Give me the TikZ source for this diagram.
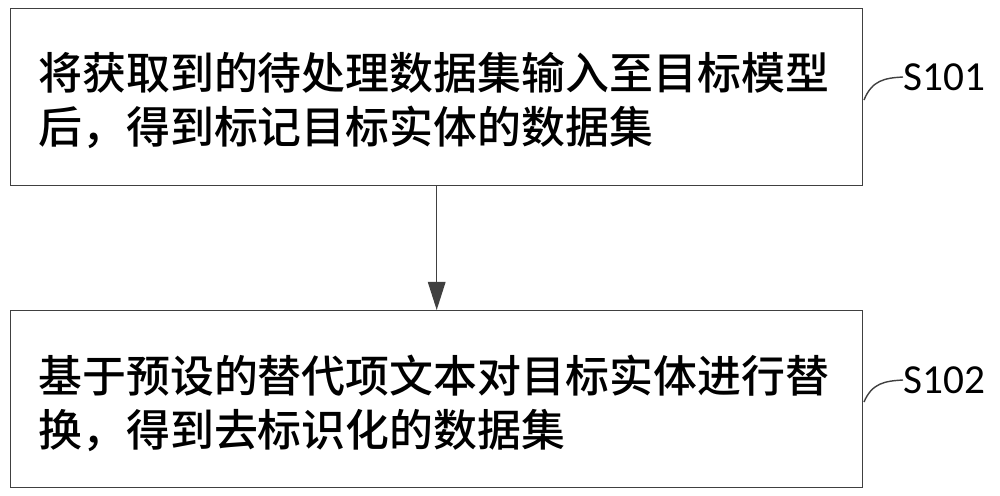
\documentclass[tikz,border=0pt]{standalone}
\usepackage{fontspec}
\newfontfamily\cjk{Noto Sans CJK SC Medium}
\newfontfamily\lab{Carlito}
\usetikzlibrary{arrows.meta}
\begin{document}
\begin{tikzpicture}[x=0.02cm,y=-0.02cm,
  stepbox/.style={draw=black!75,line width=0.8pt,minimum width=852*0.02cm,minimum height=177*0.02cm,anchor=north west,inner sep=0pt},
  txt/.style={anchor=north west,align=left,font=\cjk\fontsize{25}{30.5}\selectfont,inner sep=0pt},
  lbl/.style={font=\lab\fontsize{23.5}{26}\selectfont,anchor=west,inner sep=0pt}]
\useasboundingbox (0,0) rectangle (1000,495);
\node[stepbox] (b1) at (10,8) {};
\node[stepbox] (b2) at (10,310) {};
\node[txt] (t1) at (38,52) {将获取到的待处理数据集输入至目标模型\\后，得到标记目标实体的数据集};
\node[txt] (t2) at (38,355) {基于预设的替代项文本对目标实体进行替\\换，得到去标识化的数据集};
\draw[black!75,line width=0.8pt,-{Triangle[length=16pt,width=10pt]}] (b1.south) -- (b2.north);
\node[lbl] (s1) at (903,77) {S101};
\node[lbl] (s2) at (903,380) {S102};
\coordinate (c1) at (864,100);
\coordinate (c2) at (864,402);
\draw[black!75,line width=0.8pt] (c1) .. controls (872,80) and (885,78) .. (s1.west);
\draw[black!75,line width=0.8pt] (c2) .. controls (872,383) and (885,381) .. (s2.west);
\end{tikzpicture}
\end{document}
